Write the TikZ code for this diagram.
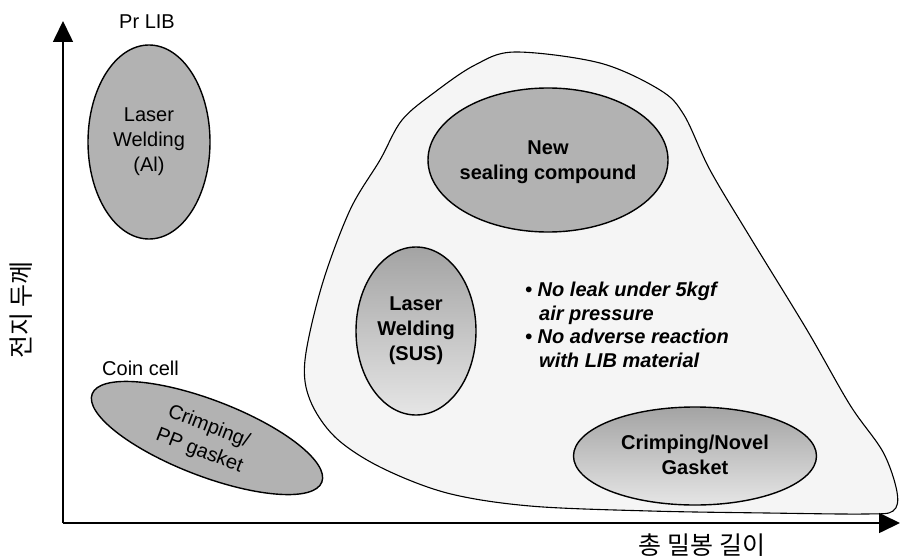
\documentclass[tikz,border=0pt]{standalone}
\usepackage{fontspec}
\setmainfont{Liberation Sans}
\newfontfamily\krfont{Noto Sans CJK KR}
\usetikzlibrary{arrows.meta,shapes.geometric}
\begin{document}
\begin{tikzpicture}[x=1pt,y=-1pt,
  oval/.style={ellipse, draw=black, line width=1.4pt, fill=black!30, inner sep=0pt},
  lbl/.style={font=\fontsize{20}{25}\selectfont, align=center, inner sep=0pt},
  boldlbl/.style={font=\fontsize{20}{25}\selectfont\bfseries, align=center, inner sep=0pt},
  axis/.style={line width=1.6pt, -{Triangle[length=21pt,width=20pt]}},
  krlbl/.style={font=\fontsize{25}{28}\selectfont\krfont, inner sep=0pt},
  region/.style={line width=1.1pt, draw=black, fill=black!4}
  ]
\useasboundingbox (0,0) rectangle (901,559);
\fill[white] (0,0) rectangle (901,559);

% large region
\draw[region] plot[smooth cycle, tension=0.55] coordinates {
  (515,52) (600,63) (660,90) (684,115) (710,170) (750,237) (807,330)
  (850,405) (883,452) (897,492) (893,511) (865,514) (767,513) (650,511)
  (530,506) (447,493) (380,467) (335,437) (310,400) (305,360) (322,285)
  (350,210) (380,160) (402,120) (435,92) (475,65)};

% axes
\coordinate (O) at (63,523);
\coordinate (ytip) at (63,21);
\coordinate (xtip) at (900,523);
\draw[axis] (O) -- (ytip);
\draw[axis] (O) -- (xtip);

% ellipses
\node[oval, minimum width=122, minimum height=194] (al) at (149,142) {};
\node[lbl] (altext) at (al.center) {Laser\\Welding\\(Al)};

\node[oval, minimum width=246, minimum height=76, rotate=-21] (pp) at (207,438) {};
\node[font=\fontsize{20}{26}\selectfont, align=center, inner sep=0pt, rotate=-21] (pptext) at (204,439) {Crimping/\\PP gasket};

\node[oval, minimum width=240, minimum height=144] (new) at (548,160) {};
\node[boldlbl] (newtext) at (548,162) {New\\sealing compound};

\node[oval, minimum width=120, minimum height=168, top color=black!36, bottom color=black!10] (sus) at (416,331) {};
\node[boldlbl] (sustext) at (sus.center) {Laser\\Welding\\(SUS)};

\node[oval, minimum width=243, minimum height=98, top color=black!36, bottom color=black!10] (novel) at (695,456) {};
\node[boldlbl] (noveltext) at (695,455) {Crimping/Novel\\Gasket};

% labels
\node[lbl] (prlib) at (147,22) {Pr LIB};
\node[lbl, anchor=west] (coin) at (102,368) {Coin cell};
\node[krlbl, rotate=90] (ylab) at (21,310) {전지 두께};
\node[krlbl] (xlab) at (702,545) {총 밀봉 길이};

\node[font=\fontsize{20}{23.5}\selectfont\bfseries\itshape, align=left, anchor=west, inner sep=0pt] (notes) at (525,325)
  {\textbullet\ No leak under 5kgf\\\hspace*{14pt}air pressure\\\textbullet\ No adverse reaction\\\hspace*{14pt}with LIB material};
\end{tikzpicture}
\end{document}
